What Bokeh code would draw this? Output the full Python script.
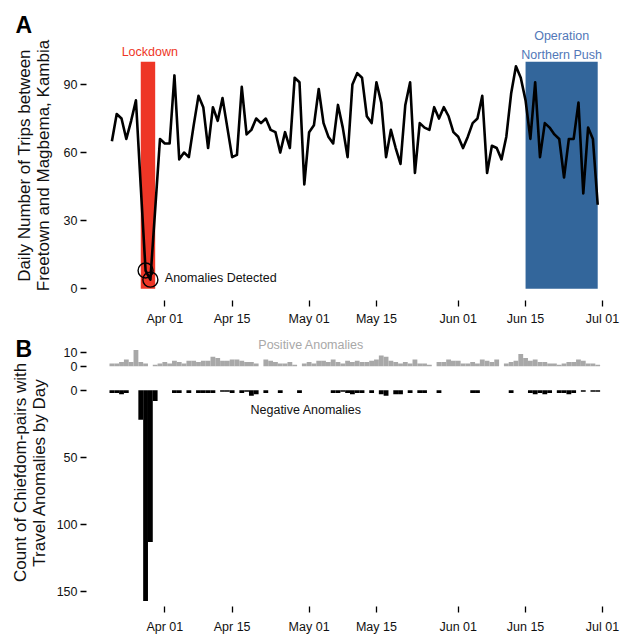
import pandas as pd
from bokeh.plotting import figure
from bokeh.models import ColumnDataSource, FixedTicker, DatetimeTickFormatter, Range1d, Label, Title
from bokeh.layouts import column
from bokeh.embed import file_html
from bokeh.resources import INLINE

# ---------------- data ----------------
dates = pd.date_range("2015-03-21", "2015-06-30", freq="D")

trips = [65, 77, 75, 66, 74, 83, 45, 8, 4, 35,
         66, 64, 64, 94, 57, 60, 58, 72, 85, 80,
         62, 80, 74, 84, 71, 58, 59, 89, 68, 70,
         75, 73, 75, 70, 69, 60, 69, 62, 93, 91,
         46, 69, 72, 88, 73, 67, 64, 81, 71, 58,
         90, 95, 93, 76, 73, 91, 82, 58, 70, 62,
         55, 81, 91, 51, 73, 71, 70, 80, 75, 80,
         76, 69, 67, 62, 67, 73, 75, 85, 51, 63,
         62, 57, 67, 86, 98, 93, 83, 66, 91, 58,
         73, 71, 68, 66, 49, 66, 66, 82, 42, 71,
         66, 37]

pos_anom = [2, 2, 3, 5, 3, 12, 3, 2, 0, 1,
            2, 3, 2, 4, 3, 2, 4, 4, 3, 4,
            4, 7, 6, 4, 4, 5, 5, 4, 3, 3,
            2, 0, 5, 4, 3, 2, 2, 3, 1, 0,
            2, 3, 2, 4, 4, 3, 5, 3, 2, 4,
            3, 4, 3, 3, 4, 5, 8, 7, 4, 3,
            2, 3, 2, 5, 2, 2, 1, 0, 3, 3,
            5, 4, 4, 2, 2, 3, 2, 5, 4, 3,
            5, 0, 2, 3, 4, 9, 6, 4, 5, 3,
            3, 2, 2, 1, 2, 3, 3, 5, 4, 2,
            2, 1]

neg_anom = [2, 2, 3, 2, 0, 0, 22, 157, 113, 8,
            0, 0, 0, 2, 2, 0, 2, 0, 2, 2,
            2, 2, 0, 1, 1, 2, 0, 2, 1, 4,
            3, 0, 2, 0, 0, 2, 0, 0, 0, 2,
            0, 0, 0, 0, 0, 0, 2, 2, 1, 2,
            3, 2, 2, 0, 2, 0, 3, 4, 0, 3,
            3, 0, 2, 0, 2, 2, 0, 0, 2, 0,
            0, 0, 0, 0, 0, 2, 2, 0, 0, 0,
            0, 0, 0, 2, 0, 0, 0, 2, 3, 2,
            3, 2, 0, 2, 2, 3, 2, 0, 1, 0,
            1, 1]

anomaly_dates = ["2015-03-28", "2015-03-29"]
lockdown = ("2015-03-27", "2015-03-30")
northern_push = ("2015-06-15", "2015-06-30")
band_top = 100
tick_dates = ["2015-04-01", "2015-04-15", "2015-05-01", "2015-05-15",
              "2015-06-01", "2015-06-15", "2015-07-01"]
a_ticks = [0, 30, 60, 90]
b_neg_ticks = [0, 50, 100, 150]
b_pos_ticks = [0, 10]

# ---------------- style ----------------
FONT = "Liberation Sans"
TICK_SIZE = "12.5px"
RED = "#ee3626"
BLUE = "#33669b"
BLUE_TXT = "#5278b8"
GRAY = "#a8a8a8"
OFFSET = 18   # vertical gap (count units) between negative and positive facets of panel B

day_ms = 86400000
x_start = pd.Timestamp("2015-04-01") - pd.Timedelta(days=16.28)
x_end = x_start + pd.Timedelta(days=109.77)
tick_ms = [pd.Timestamp(t).value // 10**6 for t in tick_dates]


def style_axes(p):
    p.xaxis.ticker = FixedTicker(ticks=tick_ms)
    p.xaxis.formatter = DatetimeTickFormatter(days="%b %d", months="%b %d", years="%b %d")
    for ax in (p.xaxis[0], p.yaxis[0]):
        ax.axis_line_color = None
        ax.major_tick_in = 0
        ax.major_tick_out = 6
        ax.major_tick_line_width = 1.3
        ax.major_tick_line_color = "black"
        ax.minor_tick_line_color = None
        ax.major_label_text_font = FONT
        ax.major_label_text_font_size = TICK_SIZE
        ax.major_label_text_color = "#111111"
        ax.axis_label_text_font = FONT
        ax.axis_label_text_font_size = "17px"
        ax.axis_label_text_font_style = "normal"
        ax.axis_label_text_color = "#111111"
        ax.axis_label_text_line_height = 1.0
    p.xgrid.visible = False
    p.ygrid.visible = False
    p.outline_line_color = None


def letter(text, standoff):
    return Title(text=text, align="left", offset=-71, standoff=standoff,
                 text_font=FONT, text_font_size="23px", text_font_style="bold",
                 text_color="black")


# ---------------- panel A ----------------
pa = figure(width=620, height=328, x_axis_type="datetime",
            x_range=Range1d(x_start, x_end), y_range=Range1d(-5.2, 113.8),
            output_backend="svg", toolbar_location=None,
            min_border_left=86, min_border_right=6, min_border_top=30, min_border_bottom=28)
style_axes(pa)
pa.title = letter("A", -14)
pa.yaxis.ticker = FixedTicker(ticks=a_ticks)
pa.yaxis.major_label_standoff = 3
pa.xaxis.major_label_standoff = 5
pa.yaxis.axis_label = "Daily Number of Trips between\nFreetown and Magbema, Kambia"
pa.yaxis.axis_label_standoff = 8

pa.quad(left=[pd.Timestamp(lockdown[0])], right=[pd.Timestamp(lockdown[1])],
        bottom=[0], top=[band_top], fill_color=RED, line_color=None)
pa.quad(left=[pd.Timestamp(northern_push[0])], right=[pd.Timestamp(northern_push[1])],
        bottom=[0], top=[band_top], fill_color=BLUE, line_color=None)

src_a = ColumnDataSource(dict(date=dates, trips=trips))
pa.line("date", "trips", source=src_a, line_color="black", line_width=2.6, line_join="round")

an_x = [pd.Timestamp(d) for d in anomaly_dates]
an_y = [trips[list(dates).index(pd.Timestamp(d))] for d in anomaly_dates]
pa.scatter(an_x, an_y, size=15, fill_color=None, line_color="black", line_width=1.4)

pa.add_layout(Label(x=pd.Timestamp("2015-03-28 21:00"), y=104.5, text="Lockdown",
                    text_align="center", text_baseline="middle", text_color=RED,
                    text_font=FONT, text_font_size="12.5px"))
pa.add_layout(Label(x=pd.Timestamp("2015-04-01"), y=4.7, text="Anomalies Detected",
                    text_align="left", text_baseline="middle", text_color="#111111",
                    text_font=FONT, text_font_size="12.5px"))
pa.add_layout(Label(x=pd.Timestamp("2015-06-22 12:00"), y=111.2, text="Operation",
                    text_align="center", text_baseline="middle", text_color=BLUE_TXT,
                    text_font=FONT, text_font_size="12.5px"))
pa.add_layout(Label(x=pd.Timestamp("2015-06-22 12:00"), y=103.2, text="Northern Push",
                    text_align="center", text_baseline="middle", text_color=BLUE_TXT,
                    text_font=FONT, text_font_size="12.5px"))

# ---------------- panel B ----------------
pb = figure(width=620, height=308, x_axis_type="datetime",
            x_range=pa.x_range, y_range=Range1d(-161.1, 38.6),
            output_backend="svg", toolbar_location=None,
            min_border_left=86, min_border_right=6, min_border_top=10, min_border_bottom=29)
style_axes(pb)
pb.title = letter("B", -47)
yt = [OFFSET + v for v in b_pos_ticks] + [-v for v in b_neg_ticks]
pb.yaxis.ticker = FixedTicker(ticks=yt)
overrides = {OFFSET + v: str(v) for v in b_pos_ticks}
overrides.update({-v: str(v) for v in b_neg_ticks})
pb.yaxis.major_label_overrides = overrides
pb.yaxis.major_label_standoff = 3
pb.xaxis.major_label_standoff = 7
pb.yaxis.axis_label = "Count of Chiefdom-pairs with\nTravel Anomalies by Day"
pb.yaxis.axis_label_standoff = 5

src_b = ColumnDataSource(dict(date=dates,
                              pos_bottom=[OFFSET] * len(pos_anom),
                              pos_top=[OFFSET + v for v in pos_anom],
                              neg_bottom=[-v for v in neg_anom],
                              neg_top=[0] * len(neg_anom)))
pb.vbar(x="date", width=day_ms, bottom="pos_bottom", top="pos_top", source=src_b,
        fill_color=GRAY, line_color=None)
pb.vbar(x="date", width=day_ms, bottom="neg_bottom", top="neg_top", source=src_b,
        fill_color="black", line_color=None)

pb.add_layout(Label(x=pd.Timestamp("2015-05-01 10:00"), y=OFFSET + 15.4, text="Positive Anomalies",
                    text_align="center", text_baseline="middle", text_color=GRAY,
                    text_font=FONT, text_font_size="12.5px"))
pb.add_layout(Label(x=pd.Timestamp("2015-04-30 09:00"), y=-14.8, text="Negative Anomalies",
                    text_align="center", text_baseline="middle", text_color="#111111",
                    text_font=FONT, text_font_size="12.5px"))

layout = column(pa, pb, spacing=0)
open("out.html", "w").write(file_html(layout, INLINE))
